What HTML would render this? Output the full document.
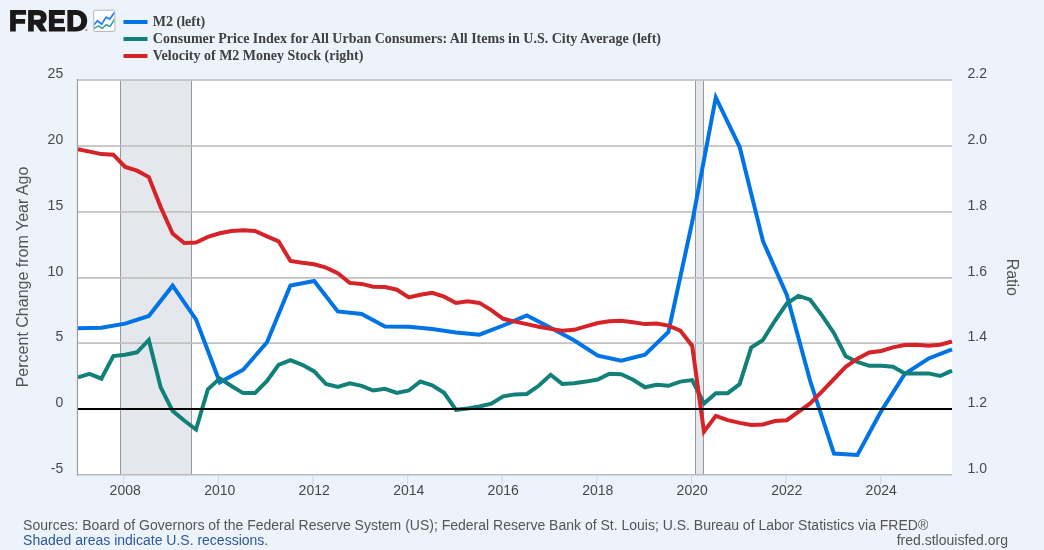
<!DOCTYPE html>
<html><head><meta charset="utf-8"><title>FRED</title>
<style>
html,body{margin:0;padding:0;background:#ecf3fb;}
body{width:1044px;height:550px;overflow:hidden;font-family:"Liberation Sans",sans-serif;}
svg{display:block;will-change:transform;transform:translateZ(0);}
.tk text{font-family:"Liberation Sans",sans-serif;font-size:14px;fill:#484848;}
.lg text{font-family:"Liberation Serif",serif;font-size:14px;font-weight:bold;fill:#404040;}
.ft text{font-family:"Liberation Sans",sans-serif;font-size:14px;fill:#555;}
.at text{font-family:"Liberation Sans",sans-serif;font-size:16px;fill:#555;}
</style></head><body>
<svg width="1044" height="550" viewBox="0 0 1044 550">
<rect width="1044" height="550" fill="#ecf3fb"/>
<!-- logo -->
<g fill="#1b1819" fill-rule="evenodd">
<path d="M10.1,10.1 H26.1 V14.8 H15.8 V19.05 H25.1 V23.7 H15.8 V31.6 H10.1 Z"/>
<path d="M28.1,10.1 H38.5 C43.5,10.1 46.7,13 46.7,17.4 C46.7,20.6 45,22.8 42.4,23.8 L47,31.6 H40.4 L35.6,24.8 H33.8 V31.6 H28.1 Z M33.8,15.2 V19.7 H38.3 C39.9,19.7 40.8,18.8 40.8,17.45 C40.8,16.1 39.9,15.2 38.3,15.2 Z"/>
<path d="M48.9,10.1 H64.9 V14.9 H54.6 V18.8 H63.9 V23.3 H54.6 V26.9 H65.1 V31.6 H48.9 Z"/>
<path d="M67.4,10.1 H76 C82.8,10.1 87.2,14.4 87.2,20.85 C87.2,27.3 82.8,31.6 76,31.6 H67.4 Z M73.2,15 V26.9 H76 C79.2,26.9 81.2,24.5 81.2,20.85 C81.2,17.3 79.2,15 76,15 Z"/>
<circle cx="86.4" cy="30.1" r="1.1" fill="#999"/>
</g>
<rect x="93.7" y="10.2" width="21.2" height="21.3" rx="1.5" fill="#fff" stroke="#b8b8b8" stroke-width="1"/>
<clipPath id="ic"><rect x="94.2" y="10.7" width="20.2" height="20.3"/></clipPath><g clip-path="url(#ic)"><polyline points="93.7,25.1 97.5,20.7 101.6,24.2 106.2,17.2 109.7,19 114.9,12" fill="none" stroke="#2a80ea" stroke-width="1.8"/>
<polyline points="93.7,28.5 98.7,25.9 102.2,28.3 106.2,24.8 110,26.5 114.9,18.7" fill="none" stroke="#3aa596" stroke-width="1.6"/></g>
<!-- legend -->
<rect x="123.5" y="20" width="24" height="4" fill="#0073e6"/>
<rect x="123.5" y="37" width="24" height="4" fill="#118078"/>
<rect x="123.5" y="54" width="24" height="4" fill="#d62328"/>
<g class="lg">
<text x="152.8" y="26">M2 (left)</text>
<text x="152.8" y="43">Consumer Price Index for All Urban Consumers: All Items in U.S. City Average (left)</text>
<text x="152.8" y="60">Velocity of M2 Money Stock (right)</text>
</g>
<!-- plot -->
<rect x="77" y="80" width="875" height="394.5" fill="#fff"/>
<rect x="120.5" y="80" width="71" height="394.5" fill="#e4e8ed"/>
<rect x="695.5" y="80" width="8" height="394.5" fill="#e4e8ed"/>
<rect x="120" y="80" width="1" height="394.5" fill="#999"/>
<rect x="191" y="80" width="1" height="394.5" fill="#999"/>
<rect x="695" y="80" width="1" height="394.5" fill="#999"/>
<rect x="703" y="80" width="1" height="394.5" fill="#999"/>
<rect x="77" y="79.15" width="875" height="1.7" fill="#c0c0c0"/><rect x="77" y="145.15" width="875" height="1.7" fill="#c0c0c0"/><rect x="77" y="211.05" width="875" height="1.7" fill="#c0c0c0"/><rect x="77" y="277.05" width="875" height="1.7" fill="#c0c0c0"/><rect x="77" y="342.25" width="875" height="1.7" fill="#c0c0c0"/><rect x="77" y="474" width="875" height="1.1" fill="#bababa"/>
<rect x="77" y="475.1" width="875" height="1" fill="#ccd6eb"/>
<rect x="123.3" y="476" width="1" height="8.5" fill="#ccd6eb"/><rect x="217.9" y="476" width="1" height="8.5" fill="#ccd6eb"/><rect x="312.5" y="476" width="1" height="8.5" fill="#ccd6eb"/><rect x="407.2" y="476" width="1" height="8.5" fill="#ccd6eb"/><rect x="501.7" y="476" width="1" height="8.5" fill="#ccd6eb"/><rect x="596.4" y="476" width="1" height="8.5" fill="#ccd6eb"/><rect x="690.9" y="476" width="1" height="8.5" fill="#ccd6eb"/><rect x="785.6" y="476" width="1" height="8.5" fill="#ccd6eb"/><rect x="880.2" y="476" width="1" height="8.5" fill="#ccd6eb"/>
<g fill="none" stroke-width="4" stroke-linejoin="miter">
<polyline points="78.0,328.3 101.4,327.7 125.2,323.6 148.8,316.0 172.6,285.7 196.0,319.4 219.8,382.3 243.2,369.7 267.0,342.3 290.4,285.6 314.2,281 337.8,311.4 361.6,314 385.0,326.4 408.8,326.7 432.2,329 456.0,332.4 479.4,334.7 503.2,325.5 526.8,315.5 550.6,327.8 574.0,340.2 597.8,355.7 621.2,360.7 645.0,354.8 668.4,332 692.2,222 715.8,97.5 739.6,146.8 763.0,241.2 786.8,294.9 810.2,381 834.0,453.5 857.4,455 881.2,411.1 904.8,373.9 928.6,358.5 952.0,349.3" stroke="#0073e6"/>
<polyline points="78.0,377.3 89.6,373.9 101.4,378.7 113.3,356.1 125.2,354.8 137.0,352.3 148.8,339.9 160.7,387.4 172.6,410.9 184.2,420.5 196.0,429.5 207.9,389.3 219.8,378.4 231.4,386 243.2,393.1 255.1,393.1 267.0,380.9 278.6,364.8 290.4,360.1 302.3,364.8 314.2,371.4 326.0,384 337.8,386.9 349.7,383.4 361.6,385.9 373.2,390.5 385.0,388.8 396.9,393 408.8,390.5 420.4,381.5 432.2,385.3 444.1,392.8 456.0,409.8 467.7,408.4 479.4,406.5 491.3,403.6 503.2,396.3 515.0,394.4 526.8,394 538.7,385.8 550.6,374.8 562.2,383.9 574.0,383.3 585.9,381.6 597.8,379.5 609.4,373.8 621.2,374.3 633.1,379.8 645.0,387.3 656.7,384.8 668.4,385.8 680.3,381.6 692.2,380.1 704.0,403.5 715.8,393.2 727.7,393.2 739.6,384.2 751.2,347.6 763.0,339.9 774.9,320.8 786.8,303.5 798.4,295.9 810.2,299.7 822.1,315.6 834.0,333.2 845.7,356.2 857.4,362 869.3,365.8 881.2,365.8 893.0,366.7 904.8,373.4 916.7,373.4 928.6,373.4 940.2,376 952.0,370.6" stroke="#118078"/>
<polyline points="78.0,149.3 89.6,151.6 101.4,154.1 113.3,154.7 125.2,166.9 137.0,170.7 148.8,177.1 160.7,207.1 172.6,233.5 184.2,243.0 196.0,242.5 207.9,236.9 219.8,233.3 231.4,231.0 243.2,230.2 255.1,231.0 267.0,236.3 278.6,241.3 290.4,260.9 302.3,262.8 314.2,264.3 326.0,267.6 337.8,273.3 349.7,282.9 361.6,283.9 373.2,286.7 385.0,287.1 396.9,289.7 408.8,297.4 420.4,294.7 432.2,292.8 444.1,296.7 456.0,302.9 467.7,301.3 479.4,302.9 491.3,310.1 503.2,318.8 515.0,321.6 526.8,324.1 538.7,326.8 550.6,328.9 562.2,330.8 574.0,329.8 585.9,326.4 597.8,323.0 609.4,321.2 621.2,320.7 633.1,322.2 645.0,324.1 656.7,323.5 668.4,325.6 680.3,330.6 692.2,345.9 704.0,431.7 715.8,415.8 727.7,420.2 739.6,422.9 751.2,425.0 763.0,424.4 774.9,421.1 786.8,420.2 798.4,411.9 810.2,403.4 822.1,391.4 834.0,379.0 845.7,366.9 857.4,358.7 869.3,352.5 881.2,351.0 893.0,347.4 904.8,345.1 916.7,344.7 928.6,345.7 940.2,344.7 952.0,341.5" stroke="#d62328"/>
</g>
<rect x="77" y="408" width="875" height="2" fill="#000"/>
<rect x="76.9" y="79.1" width="1.1" height="396.3" fill="#999"/>
<g class="tk"><text x="63.2" y="78.3" text-anchor="end">25</text><text x="63.2" y="144.3" text-anchor="end">20</text><text x="63.2" y="210.2" text-anchor="end">15</text><text x="63.2" y="276.2" text-anchor="end">10</text><text x="63.2" y="341.4" text-anchor="end">5</text><text x="63.2" y="407.3" text-anchor="end">0</text><text x="63.2" y="472.8" text-anchor="end">-5</text><text x="967.5" y="78.3">2.2</text><text x="967.5" y="144.3">2.0</text><text x="967.5" y="210.2">1.8</text><text x="967.5" y="276.2">1.6</text><text x="967.5" y="341.4">1.4</text><text x="967.5" y="407.3">1.2</text><text x="967.5" y="472.8">1.0</text><text x="125.2" y="495" text-anchor="middle">2008</text><text x="219.8" y="495" text-anchor="middle">2010</text><text x="314.2" y="495" text-anchor="middle">2012</text><text x="408.8" y="495" text-anchor="middle">2014</text><text x="503.2" y="495" text-anchor="middle">2016</text><text x="597.8" y="495" text-anchor="middle">2018</text><text x="692.2" y="495" text-anchor="middle">2020</text><text x="786.8" y="495" text-anchor="middle">2022</text><text x="881.2" y="495" text-anchor="middle">2024</text></g>
<g class="at">
<text transform="translate(27.5,277) rotate(-90)" text-anchor="middle">Percent Change from Year Ago</text>
<text transform="translate(1007.2,277.3) rotate(90)" text-anchor="middle">Ratio</text>
</g>
<g class="ft">
<text x="23.1" y="530">Sources: Board of Governors of the Federal Reserve System (US); Federal Reserve Bank of St. Louis; U.S. Bureau of Labor Statistics via FRED®</text>
<text x="23.1" y="544.9" fill="#2b5a9b" style="fill:#2b5a9b">Shaded areas indicate U.S. recessions.</text>
<text x="1008" y="544.9" text-anchor="end">fred.stlouisfed.org</text>
</g>
</svg>
</body></html>
